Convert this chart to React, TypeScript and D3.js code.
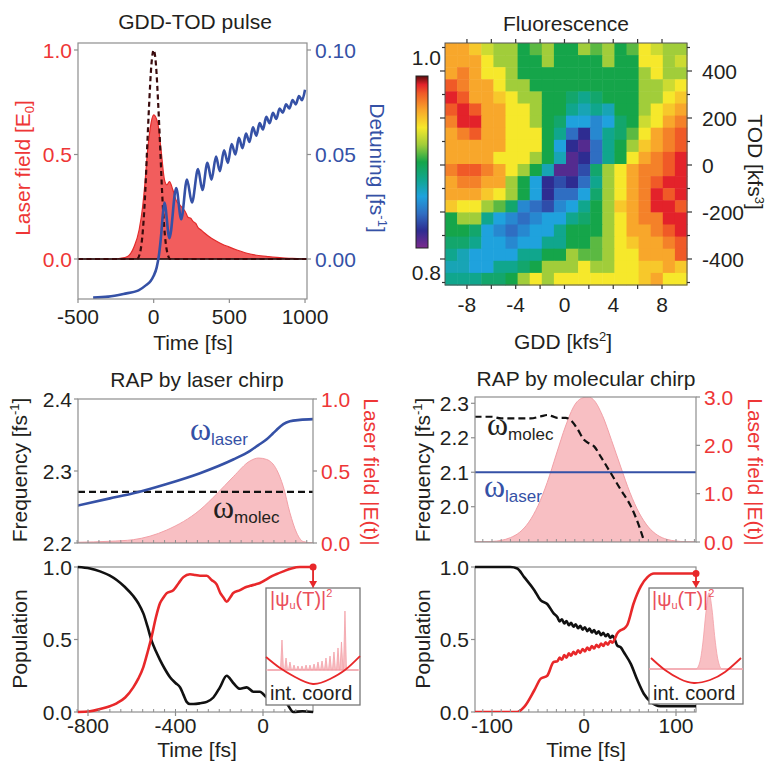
import React from "react";
import * as d3 from "d3";

type Pt = [number, number];

const FONT = "'Liberation Sans', Arial, Helvetica, sans-serif";
const SERIF = "'Liberation Serif', 'Times New Roman', serif";
const FS = 21;
const INK = "#231f20";
const RED = "#ee3636";
const BLUE = "#3551a6";
const FRAME = "#8e8e8e";
const PINK_FILL = "#f8bfc3";
const PINK_LINE = "#f2a0a7";
const POP_RED = "#e8282a";

// ---------- GDD-TOD pulse ----------
const pulseTimeTicks = [-500, 0, 500, 1000];
const fieldTicks = [0, 0.5, 1];
const detuningTicks = [0, 0.05, 0.1];
const chirpedField: Pt[] = [
  [-500, 0], [-260, 0], [-220, 0.003], [-173, 0.012], [-129, 0.06], [-96, 0.14], [-73, 0.25],
  [-58, 0.36], [-40, 0.52], [-22, 0.63], [0, 0.69], [27, 0.65], [49, 0.52], [71, 0.38],
  [87, 0.355], [104, 0.37], [127, 0.33], [149, 0.28], [171, 0.26], [190, 0.245], [210, 0.225],
  [227, 0.2], [245, 0.195], [260, 0.18], [278, 0.17], [293, 0.15], [315, 0.138], [338, 0.123],
  [370, 0.105], [404, 0.09], [450, 0.072], [493, 0.059], [550, 0.043], [604, 0.03], [680, 0.018],
  [760, 0.011], [850, 0.005], [916, 0.003], [1013, 0],
];
const limitedField: Pt[] = [
  [-500, 0], [-110, 0], [-90, 0.03], [-70, 0.15], [-55, 0.33], [-45, 0.5], [-30, 0.74],
  [-15, 0.93], [0, 1.0], [15, 0.93], [30, 0.74], [45, 0.5], [55, 0.33], [70, 0.15], [90, 0.03],
  [110, 0], [1013, 0],
];
const detuning: Pt[] = [
  [-400, -0.0185], [-300, -0.018], [-200, -0.0167], [-100, -0.015], [-50, -0.0125], [-20, -0.0105],
  [0, -0.008], [20, -0.004], [35, 0.002], [50, 0.012], [60, 0.021], [71, 0.027], [104, 0.01],
  [149, 0.034], [182, 0.019], [220, 0.038], [253, 0.027], [293, 0.043], [322, 0.033], [355, 0.046],
  [382, 0.038], [412, 0.049], [437, 0.042], [465, 0.052], [490, 0.046], [515, 0.055], [540, 0.05],
  [563, 0.058], [587, 0.053], [610, 0.06], [633, 0.056], [656, 0.063], [678, 0.059], [700, 0.065],
  [722, 0.062], [744, 0.068], [766, 0.065], [788, 0.07], [810, 0.067], [832, 0.072], [853, 0.07],
  [875, 0.074], [896, 0.072], [918, 0.076], [939, 0.074], [960, 0.078], [980, 0.076], [1000, 0.081],
];

// ---------- Fluorescence map (percent, rows TOD +500 -> -500, cols GDD -10 -> 10) ----------
const gddTicks = [-8, -4, 0, 4, 8];
const todTicks = [400, 200, 0, -200, -400];
const fluorescence = [
  [96, 96, 95, 93, 92, 92, 90, 91, 92, 90, 90, 92, 91, 92, 90, 91, 94, 93, 92, 92],
  [96, 96, 96, 94, 92, 92, 90, 90, 92, 90, 90, 90, 90, 92, 90, 90, 94, 94, 92, 93],
  [96, 97, 96, 94, 94, 92, 90, 90, 90, 90, 90, 90, 90, 90, 90, 90, 92, 94, 92, 92],
  [98, 97, 96, 96, 94, 92, 92, 90, 90, 90, 90, 90, 90, 90, 90, 90, 92, 92, 93, 94],
  [99, 98, 96, 96, 95, 94, 92, 92, 90, 90, 89, 88, 89, 90, 90, 90, 92, 92, 94, 95],
  [98, 99, 98, 96, 96, 94, 94, 92, 90, 90, 88, 87, 88, 87, 90, 90, 92, 94, 95, 96],
  [97, 99, 99, 96, 96, 94, 94, 92, 90, 89, 86, 86, 85, 86, 89, 90, 93, 94, 96, 97],
  [96, 97, 98, 96, 96, 94, 94, 94, 90, 88, 84, 82, 85, 88, 89, 91, 94, 96, 97, 98],
  [96, 96, 96, 96, 96, 94, 94, 94, 90, 86, 82, 81, 84, 88, 90, 92, 95, 96, 97, 98],
  [96, 96, 96, 96, 94, 94, 94, 92, 90, 87, 81, 82, 84, 88, 90, 94, 96, 97, 98, 99],
  [97, 98, 98, 97, 96, 94, 92, 90, 87, 81, 81, 83, 89, 92, 94, 96, 97, 97, 98, 99],
  [96, 97, 97, 96, 96, 92, 90, 86, 82, 83, 82, 84, 88, 92, 94, 96, 97, 98, 99, 99],
  [96, 96, 96, 95, 94, 92, 90, 86, 82, 84, 84, 86, 89, 92, 94, 96, 97, 99, 98, 99],
  [95, 94, 94, 92, 91, 89, 85, 84, 83, 85, 86, 88, 90, 92, 95, 96, 97, 99, 99, 98],
  [90, 92, 92, 88, 86, 85, 84, 85, 86, 86, 88, 89, 90, 92, 94, 96, 97, 97, 99, 99],
  [90, 90, 89, 86, 85, 84, 85, 86, 86, 88, 90, 90, 90, 92, 94, 96, 96, 97, 98, 99],
  [89, 89, 88, 86, 86, 85, 86, 86, 88, 88, 90, 90, 91, 92, 94, 95, 96, 96, 97, 98],
  [88, 87, 86, 86, 86, 86, 88, 88, 90, 90, 92, 91, 91, 92, 94, 94, 96, 96, 96, 98],
  [87, 87, 86, 86, 88, 88, 89, 90, 92, 92, 92, 94, 92, 92, 94, 94, 95, 95, 96, 95],
  [88, 88, 88, 89, 89, 90, 92, 94, 92, 94, 94, 94, 94, 94, 94, 94, 95, 96, 94, 94],
];
const fluorStops = [0.8, 0.82, 0.84, 0.86, 0.88, 0.9, 0.92, 0.94, 0.96, 0.98, 0.99, 1.0];
const fluorColors = ["#7b2a8d", "#2e2c91", "#2f6ec2", "#1fa2dd", "#10a68d", "#15a54a",
  "#a1cd3a", "#f6e82b", "#f8a72b", "#f05a27", "#e3222a", "#5a0c0c"];

// ---------- RAP by laser chirp ----------
const laserTimeTicks = [-800, -400, 0];
const laserFreqTicks = [2.2, 2.3, 2.4];
const laserFieldTicks = [0, 0.5, 1];
const molecLevel = 2.271;
const laserOmega: Pt[] = [
  [-847, 2.252], [-700, 2.262], [-593, 2.269], [-440, 2.282], [-288, 2.297], [-136, 2.316],
  [-59, 2.328], [-21, 2.336], [17, 2.344], [45, 2.352], [62, 2.357], [93, 2.365], [123, 2.369],
  [169, 2.371], [229, 2.372],
];
const laserEnvelope: Pt[] = [
  [-847, 0.005], [-700, 0.012], [-593, 0.023], [-440, 0.09], [-288, 0.23], [-212, 0.34],
  [-136, 0.46], [-59, 0.57], [-21, 0.59], [17, 0.58], [62, 0.51], [93, 0.39], [123, 0.21],
  [154, 0.07], [184, 0.01], [229, 0],
];
const laserPopLower: Pt[] = [
  [-847, 1], [-791, 0.99], [-745, 0.97], [-700, 0.94], [-669, 0.91], [-630, 0.86], [-593, 0.8],
  [-570, 0.75], [-547, 0.68], [-528, 0.59], [-509, 0.49], [-490, 0.42], [-471, 0.36], [-450, 0.3],
  [-425, 0.24], [-400, 0.2], [-379, 0.17], [-364, 0.12], [-349, 0.07], [-334, 0.055], [-318, 0.055],
  [-288, 0.06], [-257, 0.07], [-227, 0.1], [-197, 0.17], [-166, 0.25], [-136, 0.2], [-105, 0.16],
  [-74, 0.17], [-44, 0.14], [-14, 0.14], [17, 0.1], [47, 0.08], [78, 0.09], [108, 0.06],
  [139, 0.0], [180, 0.005], [229, 0],
];
const laserPopUpper: Pt[] = [
  [-847, 0], [-791, 0.005], [-745, 0.02], [-700, 0.04], [-669, 0.06], [-630, 0.1], [-593, 0.17],
  [-570, 0.23], [-547, 0.31], [-528, 0.41], [-509, 0.52], [-490, 0.65], [-471, 0.75], [-455, 0.79],
  [-440, 0.82], [-410, 0.84], [-385, 0.89], [-364, 0.93], [-334, 0.95], [-310, 0.945], [-288, 0.94],
  [-257, 0.94], [-235, 0.91], [-212, 0.88], [-195, 0.82], [-181, 0.79], [-166, 0.76], [-150, 0.79],
  [-136, 0.82], [-105, 0.84], [-80, 0.86], [-59, 0.87], [-35, 0.88], [-14, 0.89], [10, 0.91],
  [32, 0.93], [60, 0.95], [93, 0.97], [130, 0.99], [169, 1.0], [229, 1.0],
];
// inset: final wavepacket (position 0..1 across inset, height)
const laserPacketPeaks: Pt[] = [
  [0.17, 0.5], [0.213, 0.2], [0.255, 0.133], [0.298, 0.083], [0.34, 0.067], [0.383, 0.067],
  [0.426, 0.083], [0.468, 0.083], [0.511, 0.1], [0.553, 0.133], [0.596, 0.15], [0.638, 0.2],
  [0.681, 0.233], [0.723, 0.3], [0.766, 0.367], [0.803, 0.467], [0.84, 0.983],
];
const laserPotential: Pt[] = [
  [0, 0.217], [0.149, 0.033], [0.309, -0.117], [0.5, -0.233], [0.681, -0.15], [0.84, 0], [1, 0.233],
];

// ---------- RAP by molecular chirp ----------
const molTimeTicks = [-100, 0, 100];
const molFreqTicks = [2.0, 2.1, 2.2, 2.3];
const molFieldTicks = [0, 1, 2, 3];
const laserLevel = 2.1;
const molEnvelope: Pt[] = [
  [-119, 0], [-110, 0.005], [-100, 0.012], [-90, 0.033], [-80, 0.09], [-70, 0.2], [-60, 0.41],
  [-50, 0.75], [-40, 1.23], [-30, 1.82], [-20, 2.4], [-10, 2.84], [0, 2.99], [5, 3.0], [10, 2.95],
  [20, 2.62], [30, 2.1], [40, 1.55], [50, 1.02], [60, 0.6], [70, 0.31], [80, 0.14], [90, 0.055],
  [100, 0.02], [110, 0.006], [122, 0],
];
const molOmega: Pt[] = [
  [-119, 2.261], [-100, 2.261], [-90, 2.256], [-58, 2.256], [-47, 2.262], [-40, 2.266], [-34, 2.262],
  [-29, 2.258], [-20, 2.258], [-14, 2.25], [-7, 2.225], [0, 2.194], [6, 2.183], [11, 2.175],
  [18, 2.146], [29, 2.098], [40, 2.049], [51, 2.001], [60, 1.943], [65.5, 1.898],
];
const molPopLower: Pt[] = [
  [-119, 1], [-80, 1], [-72.5, 0.99], [-65, 0.93], [-54, 0.84], [-47, 0.77], [-40, 0.745],
  [-33, 0.68], [-29, 0.655], [-26.5, 0.625], [-24, 0.64], [-21.5, 0.61], [-19, 0.628],
  [-16.5, 0.598], [-14, 0.615], [-11.5, 0.588], [-9, 0.605], [-6.5, 0.578], [-4, 0.595],
  [-1.5, 0.568], [1, 0.585], [3.5, 0.558], [6, 0.575], [8.5, 0.548], [11, 0.565], [13.5, 0.54],
  [16, 0.556], [18.5, 0.53], [21, 0.546], [23.5, 0.522], [26, 0.537], [28.5, 0.512], [31, 0.525],
  [33.5, 0.5], [36, 0.46], [40, 0.445], [43.5, 0.41], [51, 0.33], [58, 0.22], [65, 0.126],
  [72.5, 0.07], [83, 0.04], [122, 0.04],
];
const molPopUpper: Pt[] = [
  [-119, 0], [-72.5, 0], [-65, 0.035], [-54, 0.15], [-47, 0.23], [-40, 0.25], [-33, 0.345],
  [-29, 0.35], [-26.5, 0.375], [-24, 0.36], [-21.5, 0.392], [-19, 0.375], [-16.5, 0.405],
  [-14, 0.388], [-11.5, 0.415], [-9, 0.398], [-6.5, 0.425], [-4, 0.408], [-1.5, 0.435], [1, 0.418],
  [3.5, 0.445], [6, 0.428], [8.5, 0.455], [11, 0.438], [13.5, 0.463], [16, 0.447], [18.5, 0.472],
  [21, 0.456], [23.5, 0.48], [26, 0.465], [28.5, 0.49], [31, 0.478], [33.5, 0.505], [36, 0.54],
  [40, 0.565], [43.5, 0.575], [47, 0.6], [54, 0.75], [62, 0.87], [69, 0.93], [76, 0.955], [122, 0.955],
];
const molPacket: Pt[] = [
  [0, 0], [0.5, 0], [0.543, 0.13], [0.574, 0.45], [0.606, 0.95], [0.638, 1.27], [0.67, 1.0],
  [0.702, 0.5], [0.734, 0.15], [0.777, 0], [1, 0],
];
const molPotential: Pt[] = [
  [0.021, 0.183], [0.17, -0.017], [0.33, -0.167], [0.479, -0.233], [0.649, -0.183], [0.809, -0.05],
  [0.979, 0.183],
];
const popTicks = [0, 0.5, 1];

// ---------- helpers ----------
const fmt1 = d3.format(".1f");
const fmt2 = d3.format(".2f");

function Frame({ x0, x1, y0, y1 }: { x0: number; x1: number; y0: number; y1: number }) {
  return <rect x={x0} y={y0} width={x1 - x0} height={y1 - y0} fill="none" stroke={FRAME} strokeWidth={1.2} />;
}

function LeftAxis({ scale, ticks, x, fmt, color, len = 4 }: any) {
  return (
    <g>
      {ticks.map((t: number) => (
        <g key={t}>
          <line x1={x} x2={x - len} y1={scale(t)} y2={scale(t)} stroke={FRAME} strokeWidth={1.2} />
          <text x={x - 6} y={scale(t)} dy="0.36em" textAnchor="end" fill={color} fontSize={FS}>{fmt(t)}</text>
        </g>
      ))}
    </g>
  );
}

function RightAxis({ scale, ticks, x, fmt, color, len = 4 }: any) {
  return (
    <g>
      {ticks.map((t: number) => (
        <g key={t}>
          <line x1={x} x2={x + len} y1={scale(t)} y2={scale(t)} stroke={FRAME} strokeWidth={1.2} />
          <text x={x + 8} y={scale(t)} dy="0.36em" textAnchor="start" fill={color} fontSize={FS}>{fmt(t)}</text>
        </g>
      ))}
    </g>
  );
}

function BottomAxis({ scale, ticks, y, labelY, minor = [], len = 4 }: any) {
  return (
    <g>
      {minor.map((t: number) => (
        <line key={"m" + t} x1={scale(t)} x2={scale(t)} y1={y} y2={y - 3} stroke={FRAME} strokeWidth={1} />
      ))}
      {ticks.map((t: number) => (
        <g key={t}>
          <line x1={scale(t)} x2={scale(t)} y1={y} y2={y + len} stroke={FRAME} strokeWidth={1.2} />
          <text x={scale(t)} y={labelY} textAnchor="middle" fill={INK} fontSize={FS}>{t}</text>
        </g>
      ))}
    </g>
  );
}

function Omega({ x, y, sub, color }: { x: number; y: number; sub: string; color: string }) {
  return (
    <text x={x} y={y} fill={color}>
      <tspan fontFamily={SERIF} fontSize={32}>ω</tspan>
      <tspan fontSize={17} dy={5}>{sub}</tspan>
    </text>
  );
}

function PsiLabel({ x, y }: { x: number; y: number }) {
  return (
    <text x={x} y={y} fill="#ea4f5c" fontSize={20}>
      |ψ<tspan fontSize={11} dy={3}>u</tspan>
      <tspan dy={-3}>(T)|</tspan>
      <tspan fontSize={11} dy={-9}>2</tspan>
    </text>
  );
}

export default function App() {
  // ---- top left
  const xA = d3.scaleLinear().domain([-500, 1013]).range([78, 307]);
  const yAf = d3.scaleLinear().domain([0, 1]).range([259, 50]);
  const yAd = d3.scaleLinear().domain([0, 0.1]).range([259, 50]);
  const areaA = d3.area<Pt>().x((d) => xA(d[0])).y0(yAf(0)).y1((d) => yAf(d[1])).curve(d3.curveMonotoneX);
  const lineAf = d3.line<Pt>().x((d) => xA(d[0])).y((d) => yAf(d[1])).curve(d3.curveMonotoneX);
  const lineAd = d3.line<Pt>().x((d) => xA(d[0])).y((d) => yAd(d[1])).curve(d3.curveMonotoneX);

  // ---- top right
  const nRows = fluorescence.length;
  const nCols = fluorescence[0].length;
  const colBand = d3.scaleBand<number>().domain(d3.range(nCols)).range([445, 687]);
  const rowBand = d3.scaleBand<number>().domain(d3.range(nRows)).range([43, 285]);
  const xB = d3.scaleLinear().domain([-9.8, 10.05]).range([445, 687]);
  const yB = d3.scaleLinear().domain([-400, 400]).range([259, 71]);
  const fluorColor = d3.scaleLinear<string>().domain(fluorStops).range(fluorColors).clamp(true);
  const barY = d3.scaleLinear().domain([0.8, 1.0]).range([248, 76]);

  // ---- bottom left
  const xL = d3.scaleLinear().domain([-800, 0]).range([88, 263]);
  const yC = d3.scaleLinear().domain([2.2, 2.4]).range([543, 399]);
  const yCe = d3.scaleLinear().domain([0, 1]).range([543, 399]);
  const yD = d3.scaleLinear().domain([0, 1]).range([712, 567]);
  const areaC = d3.area<Pt>().x((d) => xL(d[0])).y0(yCe(0)).y1((d) => yCe(d[1])).curve(d3.curveMonotoneX);
  const lineC = d3.line<Pt>().x((d) => xL(d[0])).y((d) => yC(d[1])).curve(d3.curveMonotoneX);
  const lineD = d3.line<Pt>().x((d) => xL(d[0])).y((d) => yD(d[1])).curve(d3.curveMonotoneX);

  // ---- bottom right
  const xM = d3.scaleLinear().domain([-100, 100]).range([492, 676]);
  const yE = d3.scaleLinear().domain([2.0, 2.3]).range([506.7, 403.3]);
  const yEe = d3.scaleLinear().domain([0, 3]).range([542, 397]);
  const yF = d3.scaleLinear().domain([0, 1]).range([712, 567]);
  const areaE = d3.area<Pt>().x((d) => xM(d[0])).y0(yEe(0)).y1((d) => yEe(d[1])).curve(d3.curveMonotoneX);
  const lineE = d3.line<Pt>().x((d) => xM(d[0])).y((d) => yE(d[1])).curve(d3.curveMonotoneX);
  const lineF = d3.line<Pt>().x((d) => xM(d[0])).y((d) => yF(d[1])).curve(d3.curveMonotoneX);

  // ---- insets
  const insetD = { x0: 266, x1: 360, y0: 588, y1: 705, base: 670 };
  const insetF = { x0: 649, x1: 743, y0: 588, y1: 704, base: 669 };
  const iuD = d3.scaleLinear().domain([0, 1]).range([insetD.x0, insetD.x1]);
  const ivD = d3.scaleLinear().domain([0, 1]).range([insetD.base, insetD.base - 60]);
  const iuF = d3.scaleLinear().domain([0, 1]).range([insetF.x0, insetF.x1]);
  const ivF = d3.scaleLinear().domain([0, 1]).range([insetF.base, insetF.base - 60]);
  const spikePts: Pt[] = [[0.02, 0]];
  laserPacketPeaks.forEach(([u, v]) => {
    spikePts.push([u - 0.016, 0], [u, v], [u + 0.016, 0]);
  });
  spikePts.push([0.98, 0]);
  const spikeArea = d3.area<Pt>().x((d) => iuD(d[0])).y0(ivD(0)).y1((d) => ivD(d[1]));
  const potD = d3.line<Pt>().x((d) => iuD(d[0])).y((d) => ivD(d[1])).curve(d3.curveNatural);
  const packF = d3.area<Pt>().x((d) => iuF(d[0])).y0(ivF(0)).y1((d) => ivF(d[1])).curve(d3.curveMonotoneX);
  const potF = d3.line<Pt>().x((d) => iuF(d[0])).y((d) => ivF(d[1])).curve(d3.curveNatural);

  const laserMinor = d3.range(-850, 230, 50);
  const molMinor = d3.range(-110, 121, 10);
  const lastD = laserPopUpper[laserPopUpper.length - 1];
  const lastF = molPopUpper[molPopUpper.length - 1];

  return (
    <svg width={768} height={765} style={{ position: "absolute", left: 0, top: 0, background: "#fff" }}
      fontFamily={FONT}>
      <defs>
        <clipPath id="clipA"><rect x={78} y={43} width={229} height={256} /></clipPath>
        <clipPath id="clipC"><rect x={78} y={399} width={235} height={144} /></clipPath>
        <clipPath id="clipE"><rect x={475} y={397} width={221} height={145} /></clipPath>
        <clipPath id="clipF"><rect x={475} y={560} width={221} height={152} /></clipPath>
        <linearGradient id="fluorBar" x1="0" y1="1" x2="0" y2="0">
          {fluorStops.map((s, i) => (
            <stop key={s} offset={(s - 0.8) / 0.2} stopColor={fluorColors[i]} />
          ))}
        </linearGradient>
      </defs>

      {/* ===== GDD-TOD pulse ===== */}
      <text x={195} y={29} textAnchor="middle" fill={INK} fontSize={FS}>GDD-TOD pulse</text>
      <g clipPath="url(#clipA)">
        <path d={areaA(chirpedField) ?? ""} fill="#f25d5d" stroke="#e22a2a" strokeWidth={1.2} />
        <line x1={78} x2={307} y1={yAf(0)} y2={yAf(0)} stroke="#111" strokeWidth={1.4} />
        <path d={lineAf(limitedField) ?? ""} fill="none" stroke="#3a0b0d" strokeWidth={2.2} strokeDasharray="5,3.5" />
        <path d={lineAd(detuning) ?? ""} fill="none" stroke={BLUE} strokeWidth={2.6} />
      </g>
      <Frame x0={78} x1={307} y0={43} y1={299} />
      <LeftAxis scale={yAf} ticks={fieldTicks} x={78} fmt={fmt1} color={RED} />
      <RightAxis scale={yAd} ticks={detuningTicks} x={307} fmt={fmt2} color={BLUE} />
      <BottomAxis scale={xA} ticks={pulseTimeTicks} y={299} labelY={324} />
      <text x={193} y={350} textAnchor="middle" fill={INK} fontSize={FS}>Time [fs]</text>
      <text transform="translate(30,168) rotate(-90)" textAnchor="middle" fill={RED} fontSize={FS}>
        Laser field [E<tspan fontSize={13} dy={4}>0</tspan><tspan dy={-4}>]</tspan>
      </text>
      <text transform="translate(370,168) rotate(90)" textAnchor="middle" fill={BLUE} fontSize={FS}>
        Detuning [fs<tspan fontSize={13} dy={-8}>-1</tspan><tspan dy={8}>]</tspan>
      </text>

      {/* ===== Fluorescence ===== */}
      <text x={566} y={31} textAnchor="middle" fill={INK} fontSize={FS}>Fluorescence</text>
      <g>
        {fluorescence.map((row, r) =>
          row.map((v, c) => (
            <rect key={r + "-" + c} x={colBand(c)} y={rowBand(r)} width={colBand.bandwidth() + 0.5}
              height={rowBand.bandwidth() + 0.5} fill={fluorColor(v / 100)} />
          ))
        )}
      </g>
      <rect x={445} y={43} width={242} height={242} fill="none" stroke="#555" strokeWidth={1} />
      {d3.range(-8, 10, 2).map((g) => (
        <g key={"g" + g}>
          <line x1={xB(g)} x2={xB(g)} y1={43} y2={39} stroke="#333" strokeWidth={1.2} />
          <line x1={xB(g)} x2={xB(g)} y1={285} y2={289} stroke="#333" strokeWidth={1.2} />
        </g>
      ))}
      {d3.range(-500, 501, 100).map((t) => (
        <g key={"t" + t}>
          <line x1={445} x2={t % 200 === 0 ? 440 : 442} y1={yB(t)} y2={yB(t)} stroke="#333" strokeWidth={1.2} />
          <line x1={687} x2={t % 200 === 0 ? 692 : 690} y1={yB(t)} y2={yB(t)} stroke="#333" strokeWidth={1.2} />
        </g>
      ))}
      {gddTicks.map((g) => (
        <text key={g} x={xB(g)} y={312} textAnchor="middle" fill={INK} fontSize={FS}>{g}</text>
      ))}
      {todTicks.map((t) => (
        <text key={t} x={702} y={yB(t)} dy="0.36em" textAnchor="start" fill={INK} fontSize={FS}>{t}</text>
      ))}
      <text x={563} y={349} textAnchor="middle" fill={INK} fontSize={FS}>
        GDD [kfs<tspan fontSize={13} dy={-8}>2</tspan><tspan dy={8}>]</tspan>
      </text>
      <text transform="translate(748,162) rotate(90)" textAnchor="middle" fill={INK} fontSize={FS}>
        TOD [kfs<tspan fontSize={13} dy={-7}>3</tspan><tspan dy={7}>]</tspan>
      </text>
      <rect x={416} y={barY(1.0)} width={12} height={barY(0.8) - barY(1.0)} fill="url(#fluorBar)" stroke="#222" strokeWidth={1} />
      <text x={441} y={65} textAnchor="end" fill={INK} fontSize={FS}>{fmt1(1.0)}</text>
      <text x={441} y={280} textAnchor="end" fill={INK} fontSize={FS}>{fmt1(0.8)}</text>

      {/* ===== RAP by laser chirp ===== */}
      <text x={197} y={387} textAnchor="middle" fill={INK} fontSize={FS}>RAP by laser chirp</text>
      <g clipPath="url(#clipC)">
        <path d={areaC(laserEnvelope) ?? ""} fill={PINK_FILL} stroke={PINK_LINE} strokeWidth={1} />
        <line x1={78} x2={313} y1={yC(molecLevel)} y2={yC(molecLevel)} stroke="#111" strokeWidth={2.2} strokeDasharray="7,4" />
        <path d={lineC(laserOmega) ?? ""} fill="none" stroke={BLUE} strokeWidth={2.6} />
      </g>
      <Frame x0={78} x1={313} y0={399} y1={543} />
      {laserMinor.map((t) => (
        <line key={"cm" + t} x1={xL(t)} x2={xL(t)} y1={543} y2={540} stroke={FRAME} strokeWidth={1} />
      ))}
      <LeftAxis scale={yC} ticks={laserFreqTicks} x={78} fmt={fmt1} color={INK} />
      <RightAxis scale={yCe} ticks={laserFieldTicks} x={313} fmt={fmt1} color={RED} />
      <Omega x={190} y={440} sub="laser" color={BLUE} />
      <Omega x={213} y={518} sub="molec" color={INK} />
      <text transform="translate(27,470) rotate(-90)" textAnchor="middle" fill={INK} fontSize={FS}>
        Frequency [fs<tspan fontSize={13} dy={-8}>-1</tspan><tspan dy={8}>]</tspan>
      </text>
      <text transform="translate(364,472) rotate(90)" textAnchor="middle" fill={RED} fontSize={FS}>
        Laser field |E(t)|
      </text>

      {/* population, laser chirp */}
      <Frame x0={78} x1={313} y0={567} y1={712} />
      <g>
        <path d={lineD(laserPopLower) ?? ""} fill="none" stroke="#111" strokeWidth={2.6} />
        <path d={lineD(laserPopUpper) ?? ""} fill="none" stroke={POP_RED} strokeWidth={2.6} />
      </g>
      <LeftAxis scale={yD} ticks={popTicks} x={78} fmt={fmt1} color={INK} />
      <BottomAxis scale={xL} ticks={laserTimeTicks} y={712} labelY={733} minor={laserMinor} />
      <text x={197} y={757} textAnchor="middle" fill={INK} fontSize={FS}>Time [fs]</text>
      <text transform="translate(27,639) rotate(-90)" textAnchor="middle" fill={INK} fontSize={FS}>Population</text>
      <rect x={insetD.x0} y={insetD.y0} width={insetD.x1 - insetD.x0} height={insetD.y1 - insetD.y0}
        fill="#fff" stroke="#777" strokeWidth={1.3} />
      <path d={spikeArea(spikePts) ?? ""} fill={PINK_FILL} stroke={PINK_LINE} strokeWidth={0.8} />
      <line x1={insetD.x0} x2={insetD.x1} y1={ivD(0)} y2={ivD(0)} stroke={PINK_LINE} strokeWidth={1} />
      <path d={potD(laserPotential) ?? ""} fill="none" stroke={POP_RED} strokeWidth={1.8} />
      <PsiLabel x={270} y={606} />
      <text x={270} y={700} fill={INK} fontSize={20}>int. coord</text>
      <circle cx={xL(lastD[0])} cy={yD(lastD[1])} r={3.5} fill={POP_RED} />
      <line x1={xL(lastD[0])} x2={xL(lastD[0])} y1={yD(lastD[1])} y2={insetD.y0 - 6} stroke={POP_RED} strokeWidth={1.8} />
      <path d={`M${xL(lastD[0]) - 4},${insetD.y0 - 7} L${xL(lastD[0]) + 4},${insetD.y0 - 7} L${xL(lastD[0])},${insetD.y0} Z`} fill={POP_RED} />

      {/* ===== RAP by molecular chirp ===== */}
      <text x={586} y={386} textAnchor="middle" fill={INK} fontSize={FS}>RAP by molecular chirp</text>
      <g clipPath="url(#clipE)">
        <path d={areaE(molEnvelope) ?? ""} fill={PINK_FILL} stroke={PINK_LINE} strokeWidth={1} />
        <line x1={475} x2={696} y1={yE(laserLevel)} y2={yE(laserLevel)} stroke={BLUE} strokeWidth={2.2} />
        <path d={lineE(molOmega) ?? ""} fill="none" stroke="#111" strokeWidth={2.2} strokeDasharray="7,4" />
      </g>
      <Frame x0={475} x1={696} y0={397} y1={542} />
      {molMinor.map((t) => (
        <line key={"em" + t} x1={xM(t)} x2={xM(t)} y1={542} y2={539} stroke={FRAME} strokeWidth={1} />
      ))}
      <LeftAxis scale={yE} ticks={molFreqTicks} x={475} fmt={fmt1} color={INK} />
      <RightAxis scale={yEe} ticks={molFieldTicks} x={696} fmt={fmt1} color={RED} />
      <Omega x={487} y={435} sub="molec" color={INK} />
      <Omega x={484} y={497} sub="laser" color={BLUE} />
      <text transform="translate(430,470) rotate(-90)" textAnchor="middle" fill={INK} fontSize={FS}>
        Frequency [fs<tspan fontSize={13} dy={-8}>-1</tspan><tspan dy={8}>]</tspan>
      </text>
      <text transform="translate(748,472) rotate(90)" textAnchor="middle" fill={RED} fontSize={FS}>
        Laser field |E(t)|
      </text>

      {/* population, molecular chirp */}
      <Frame x0={475} x1={696} y0={567} y1={712} />
      <g clipPath="url(#clipF)">
        <path d={lineF(molPopLower) ?? ""} fill="none" stroke="#111" strokeWidth={2.6} />
        <path d={lineF(molPopUpper) ?? ""} fill="none" stroke={POP_RED} strokeWidth={2.6} />
      </g>
      <LeftAxis scale={yF} ticks={popTicks} x={475} fmt={fmt1} color={INK} />
      <BottomAxis scale={xM} ticks={molTimeTicks} y={712} labelY={733} minor={molMinor} />
      <text x={586} y={757} textAnchor="middle" fill={INK} fontSize={FS}>Time [fs]</text>
      <text transform="translate(430,639) rotate(-90)" textAnchor="middle" fill={INK} fontSize={FS}>Population</text>
      <rect x={insetF.x0} y={insetF.y0} width={insetF.x1 - insetF.x0} height={insetF.y1 - insetF.y0}
        fill="#fff" stroke="#777" strokeWidth={1.3} />
      <line x1={insetF.x0} x2={insetF.x1} y1={ivF(0)} y2={ivF(0)} stroke={PINK_LINE} strokeWidth={1} />
      <path d={packF(molPacket) ?? ""} fill={PINK_FILL} stroke={PINK_LINE} strokeWidth={0.8} />
      <path d={potF(molPotential) ?? ""} fill="none" stroke={POP_RED} strokeWidth={1.8} />
      <PsiLabel x={652} y={606} />
      <text x={653} y={700} fill={INK} fontSize={20}>int. coord</text>
      <circle cx={xM(lastF[0]) > 696 ? 696 : xM(lastF[0])} cy={yF(lastF[1])} r={3.5} fill={POP_RED} />
      <line x1={696} x2={696} y1={yF(lastF[1])} y2={insetF.y0 - 6} stroke={POP_RED} strokeWidth={1.8} />
      <path d={`M692,${insetF.y0 - 7} L700,${insetF.y0 - 7} L696,${insetF.y0} Z`} fill={POP_RED} />
    </svg>
  );
}
